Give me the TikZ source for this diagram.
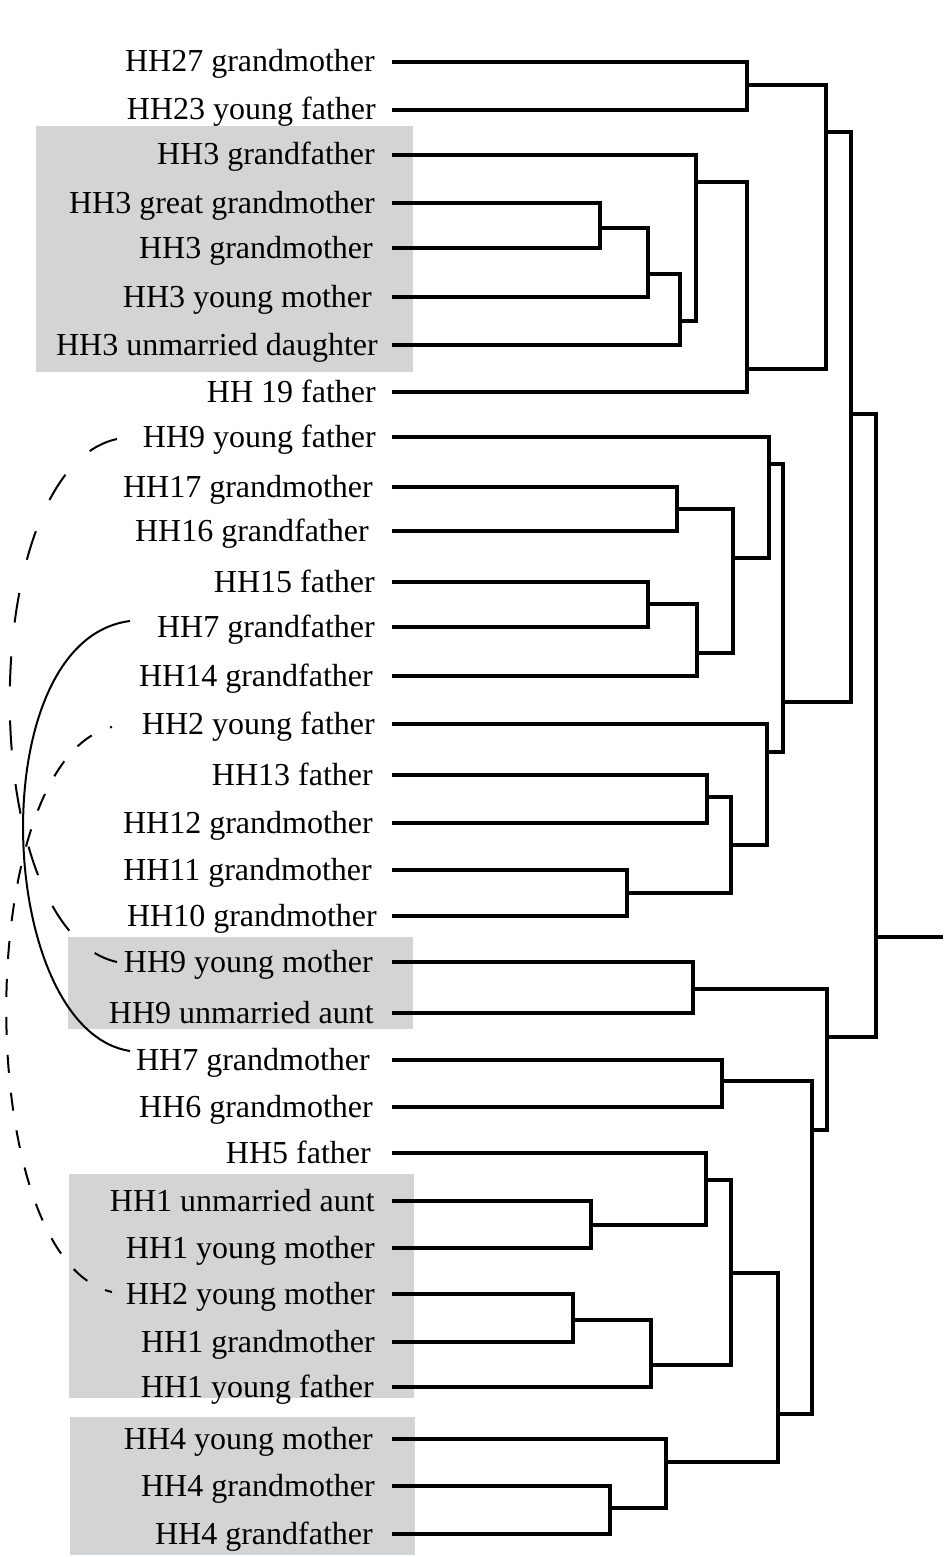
\documentclass[tikz,border=0pt]{standalone}
\usepackage{fontspec}
\setmainfont{Liberation Serif}
\usepackage{tikz}
\definecolor{boxgray}{RGB}{211,212,214}

\tikzset{
  leaf/.style={anchor=base east, inner sep=0pt, font=\fontsize{32}{38}\selectfont},
  branch/.style={line width=3.6pt},
  link/.style={line width=2pt},
}

\begin{document}
\begin{tikzpicture}[x=1pt,y=-1pt]
\useasboundingbox (0,0) rectangle (943,1557);

% grey boxes round the households
\fill[boxgray] (36,126) rectangle (413,372);
\fill[boxgray] (68,937) rectangle (413,1029);
\fill[boxgray] (69,1174) rectangle (414,1398);
\fill[boxgray] (70,1417) rectangle (415,1555);

% labels, one leaf point each
\foreach \n/\y/\r/\who in {1/62/375/HH27 grandmother, 2/110/376/HH23 young father,
  3/155/375/HH3 grandfather, 4/203/375/HH3 great grandmother, 5/248/373/HH3 grandmother,
  6/297/372/HH3 young mother, 7/345/378/HH3 unmarried daughter, 8/392/376/HH 19 father,
  9/437/376/HH9 young father, 10/487/373/HH17 grandmother, 11/531/369/HH16 grandfather,
  12/582/375/HH15 father, 13/627/375/HH7 grandfather, 14/676/373/HH14 grandfather,
  15/724/375/HH2 young father, 16/775/373/HH13 father, 17/823/373/HH12 grandmother,
  18/870/372/HH11 grandmother, 19/916/377/HH10 grandmother, 20/962/373/HH9 young mother,
  21/1013/374/HH9 unmarried aunt, 22/1060/370/HH7 grandmother, 23/1107/373/HH6 grandmother,
  24/1153/371/HH5 father, 25/1201/375/HH1 unmarried aunt, 26/1248/375/HH1 young mother,
  27/1294/375/HH2 young mother, 28/1342/375/HH1 grandmother, 29/1387/374/HH1 young father,
  30/1439/373/HH4 young mother, 31/1486/375/HH4 grandmother, 32/1534/373/HH4 grandfather}
{
\node[leaf] (t\n) at ({\r},{\y+10}) {\who};
\coordinate (p\n) at (392,\y);
}

% joins of the tree
\coordinate (a1) at (747,85);
\coordinate (a2) at (600,228);
\coordinate (a3) at (648,274);
\coordinate (a4) at (680,321);
\coordinate (a5) at (696,182);
\coordinate (a6) at (747,369);
\coordinate (a7) at (826,132);
\coordinate (b1) at (677,509);
\coordinate (b2) at (648,604);
\coordinate (b3) at (697,653);
\coordinate (b4) at (733,558);
\coordinate (b5) at (769,464);
\coordinate (b6) at (707,797);
\coordinate (b7) at (627,893);
\coordinate (b8) at (731,845);
\coordinate (b9) at (767,752);
\coordinate (b10) at (783,702);
\coordinate (m1) at (851,414);
\coordinate (c1) at (693,989);
\coordinate (c2) at (722,1081);
\coordinate (c3) at (591,1225);
\coordinate (c4) at (706,1180);
\coordinate (c5) at (573,1320);
\coordinate (c6) at (651,1365);
\coordinate (c7) at (731,1273);
\coordinate (c8) at (610,1508);
\coordinate (c9) at (666,1462);
\coordinate (c10) at (778,1414);
\coordinate (c11) at (812,1130);
\coordinate (c12) at (827,1037);
\coordinate (root) at (876,937);
\coordinate (stub) at (943,937);

\foreach \j/\u/\v in {a1/p1/p2, a2/p4/p5, a3/a2/p6, a4/a3/p7, a5/p3/a4, a6/a5/p8,
  a7/a1/a6, b1/p10/p11, b2/p12/p13, b3/b2/p14, b4/b1/b3, b5/p9/b4, b6/p16/p17,
  b7/p18/p19, b8/b6/b7, b9/p15/b8, b10/b5/b9, m1/a7/b10, c1/p20/p21, c2/p22/p23,
  c3/p25/p26, c4/p24/c3, c5/p27/p28, c6/c5/p29, c7/c4/c6, c8/p31/p32, c9/p30/c8,
  c10/c7/c9, c11/c2/c10, c12/c1/c11, root/m1/c12}
\draw[branch] (\u) -| (\j) |- (\v);
\draw[branch] (root) -- (stub);

% links between members of one household
\coordinate (s1) at (130,621);
\coordinate (s2) at (130,1051);
\coordinate (d1) at (117,439);
\coordinate (d2) at (117,962);
\coordinate (e1) at (112,727);
\coordinate (e2) at (112,1292);
\draw[link] (s1) .. controls (-20,640) and (-5,1030) .. (s2);
\draw[link, dash pattern=on 30pt off 34pt] (d1) .. controls (-26,470) and (-26,930) .. (d2);
\draw[link, dash pattern=on 18pt off 20pt, dash phase=16pt] (e1) .. controls (-29,760) and (-29,1260) .. (e2);
\end{tikzpicture}
\end{document}
